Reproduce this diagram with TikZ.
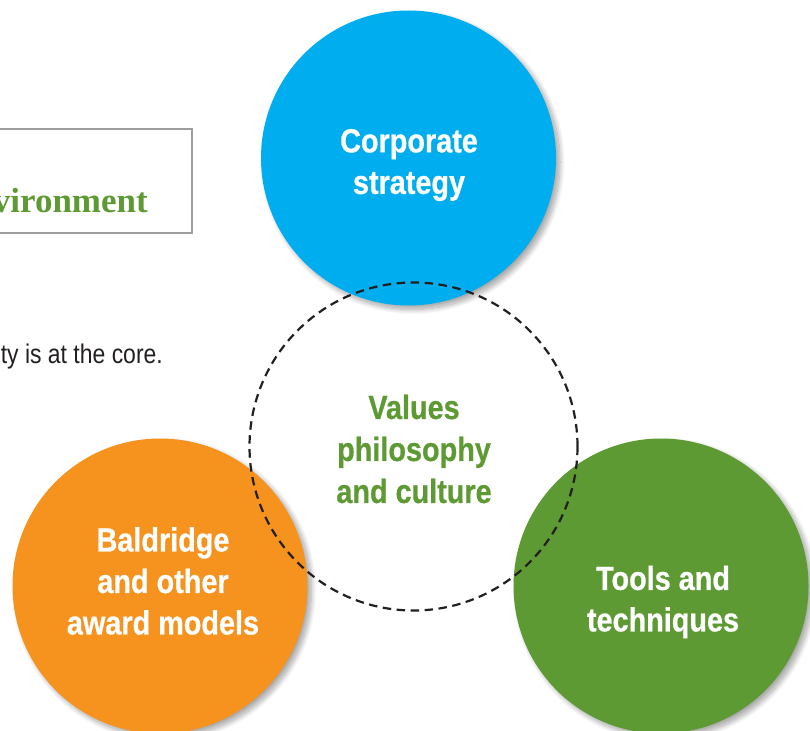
\documentclass[tikz,border=0pt]{standalone}
\usepackage{fontspec}
\setmainfont{Liberation Sans}[FakeStretch=0.85]
\newfontfamily\heavy{Liberation Sans Bold}[FakeStretch=0.86, FakeBold=0.6]
\newfontfamily\boxserif{Liberation Serif}
\usetikzlibrary{shadows.blur}
\definecolor{cblue}{HTML}{00AEEF}
\definecolor{corange}{HTML}{F6921E}
\definecolor{cgreen}{HTML}{5E9A33}
\definecolor{cdark}{HTML}{231F20}
\definecolor{cgray}{HTML}{9D9D9F}
\tikzset{
  bigcircle/.style={circle, minimum size=295pt, inner sep=0pt, draw=none,
    blur shadow={shadow xshift=4pt, shadow yshift=-4pt, shadow blur steps=12, shadow opacity=35, shadow blur radius=5pt}},
  ctext/.style={text=white, font=\heavy\fontsize{33.5}{41.5}\selectfont, align=center},
  coretext/.style={text=cgreen, font=\heavy\fontsize{33.5}{42}\selectfont, align=center},
  dashring/.style={circle, minimum size=328pt, inner sep=0pt, draw=cdark, line width=2.2pt, dash pattern=on 8.5pt off 5.5pt},
  graybox/.style={draw=cgray, line width=2pt, fill=white}
}
\begin{document}
\begin{tikzpicture}[x=1pt, y=-1pt]
\useasboundingbox (0,0) rectangle (810,730);
\clip (0,0) rectangle (810,730);
% left partial box and text
\node[graybox, minimum width=220pt, minimum height=104pt, anchor=north east, inner sep=0pt] (box) at (193,128) {};
\node[anchor=base east, inner sep=0pt, text=cgreen, font=\boxserif\fontsize{35}{35}\selectfont\bfseries] (env) at (148,212) {vironment};
\node[anchor=base east, inner sep=0pt, text=cdark, font=\fontsize{27}{27}\selectfont] (core) at (163,363) {ty is at the core.};
% circles
\node[bigcircle, fill=cblue] (blue) at (408.5,158) {};
\node[bigcircle, fill=corange] (orange) at (160,586) {};
\node[bigcircle, fill=cgreen] (green) at (661,586) {};
\node[dashring] (ring) at (413.5,446.5) {};
% texts
\node[ctext] (bluet) at (409,165) {Corporate\\strategy};
\node[ctext] (oranget) at (163,581) {Baldridge\\and other\\award models};
\node[ctext] (greent) at (663,602) {Tools and\\techniques};
\node[coretext] (ringt) at (414,449) {Values\\philosophy\\and culture};
\end{tikzpicture}
\end{document}
